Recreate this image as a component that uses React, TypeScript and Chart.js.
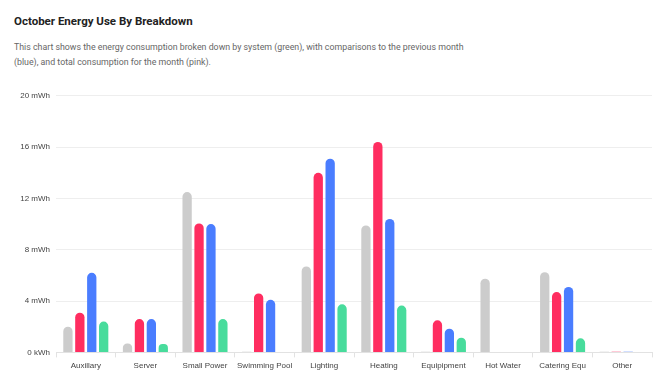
import React, { useEffect, useRef } from "react";
import { Chart, registerables } from "chart.js";

Chart.register(...registerables);

const categories = ["Auxillary", "Server", "Small Power", "Swimming Pool", "Lighting", "Heating", "Equipipment", "Hot Water", "Catering Equ", "Other"];
const greyValues = [2.0, 0.7, 12.5, 0.05, 6.7, 9.9, 0.05, 5.75, 6.25, 0.05];
const pinkValues = [3.1, 2.6, 10.05, 4.6, 14.0, 16.4, 2.5, 0, 4.7, 0.05];
const blueValues = [6.2, 2.6, 10.0, 4.1, 15.1, 10.4, 1.85, 0, 5.1, 0.05];
const greenValues = [2.4, 0.65, 2.6, 0, 3.75, 3.65, 1.15, 0, 1.1, 0];
const yTicks = [0, 4, 8, 12, 16, 20];
const yTickLabels = ["0 kWh", "4 mWh", "8 mWh", "12 mWh", "16 mWh", "20 mWh"];

export default function App() {
  const ref = useRef<HTMLCanvasElement>(null);
  useEffect(() => {
    const radius = { topLeft: 5, topRight: 5, bottomLeft: 0, bottomRight: 0 };
    const mk = (label: string, data: number[], color: string) => ({
      label,
      data,
      backgroundColor: color,
      borderRadius: radius,
      borderSkipped: false as const,
      barPercentage: 0.78,
      categoryPercentage: 0.8,
    });
    const chart = new Chart(ref.current!, {
      type: "bar",
      data: {
        labels: categories,
        datasets: [
          mk("Previous", greyValues, "rgb(204,204,204)"),
          mk("Total", pinkValues, "rgb(255,45,96)"),
          mk("Previous month", blueValues, "rgb(74,125,255)"),
          mk("System", greenValues, "rgb(72,220,156)"),
        ],
      },
      options: {
        responsive: false,
        animation: false,
        layout: { padding: { left: 0, right: 8, top: 6, bottom: 0 } },
        plugins: { legend: { display: false }, tooltip: { enabled: false } },
        scales: {
          x: {
            grid: { display: true, drawOnChartArea: false, drawTicks: true, tickLength: 5, color: "#e2e2e2", offset: true },
            border: { display: true, color: "#e2e2e2" },
            ticks: { color: "#444", font: { family: "Liberation Sans", size: 8 }, padding: 4, maxRotation: 0, autoSkip: false },
          },
          y: {
            min: 0,
            max: 20,
            afterBuildTicks: (axis: any) => {
              axis.ticks = yTicks.map((v) => ({ value: v }));
            },
            afterFit: (axis: any) => {
              axis.width = 56;
            },
            grid: { color: "#eeeeee", drawTicks: false },
            border: { display: false },
            ticks: {
              color: "#444",
              font: { family: "Liberation Sans", size: 8 },
              padding: 6,
              callback: (v: any) => yTickLabels[yTicks.indexOf(Number(v))] ?? "",
            },
          },
        },
      },
    });
    return () => chart.destroy();
  }, []);
  return (
    <div style={{ position: "absolute", left: 0, top: 0, width: 670, height: 390, background: "#fff", fontFamily: "Roboto, sans-serif", overflow: "hidden" }}>
      <div style={{ position: "absolute", left: 14, top: 14, fontSize: 11.5, fontWeight: 700, color: "#222" }}>October Energy Use By Breakdown</div>
      <div style={{ position: "absolute", left: 14, top: 40, width: 470, fontSize: 8.8, lineHeight: "15px", color: "#666" }}>
        This chart shows the energy consumption broken down by system (green), with comparisons to the previous month (blue), and total consumption for the month (pink).
      </div>
      <canvas ref={ref} width={660} height={290} style={{ position: "absolute", left: 0, top: 85 }} />
    </div>
  );
}
